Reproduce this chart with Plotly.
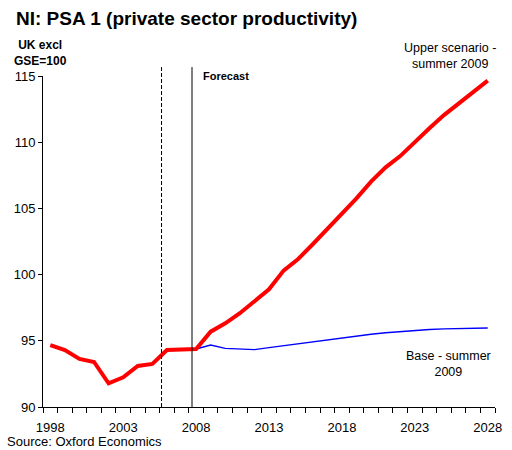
import plotly.graph_objects as go

# Northern Ireland private sector productivity, UK excl GSE = 100
years = list(range(1998, 2029))

upper_scenario = [
    94.68, 94.30, 93.63, 93.40, 91.79, 92.24, 93.10, 93.25, 94.30, 94.36,
    94.38, 95.69, 96.32, 97.08, 97.96, 98.89, 100.30, 101.18, 102.29, 103.42,
    104.60, 105.76, 107.02, 108.10, 108.95, 110.04, 111.05, 112.05, 112.93, 113.82,
    114.65,
]

# base scenario only runs from 2008 onwards
base_years = list(range(2008, 2029))
base_scenario = [
    94.38, 94.68, 94.43, 94.38, 94.33, 94.48, 94.63, 94.73, 94.89, 95.04,
    95.19, 95.34, 95.49, 95.61, 95.69, 95.82, 95.85, 95.90, 95.92, 95.97,
    95.97,
]

x_tick_years = [1998, 2003, 2008, 2013, 2018, 2023, 2028]
y_ticks = [90, 95, 100, 105, 110, 115]

# positions of the vertical divider lines (data-period break and forecast start)
divider_dashed = 2005.63
divider_forecast = 2007.72

FONT = "Liberation Sans, Arial, sans-serif"

fig = go.Figure()

fig.add_trace(go.Scatter(
    x=base_years, y=base_scenario, mode="lines",
    line=dict(color="#0000FF", width=1.4),
    name="Base - summer 2009", showlegend=False,
))
fig.add_trace(go.Scatter(
    x=years, y=upper_scenario, mode="lines",
    line=dict(color="#FF0000", width=4),
    name="Upper scenario - summer 2009", showlegend=False,
))

fig.add_shape(type="line", xref="x", yref="paper",
              x0=divider_dashed, x1=divider_dashed, y0=0, y1=1.027,
              line=dict(color="black", width=1, dash="4px,2px"))
fig.add_shape(type="line", xref="x", yref="paper",
              x0=divider_forecast, x1=divider_forecast, y0=0, y1=1.027,
              line=dict(color="black", width=1))


def note(text, x, y, xanchor="center", xref="paper", yref="paper", size=12, align="center"):
    return dict(text=text, x=x, y=y, xref=xref, yref=yref, xanchor=xanchor,
                yanchor="middle", align=align, showarrow=False,
                font=dict(size=size, color="black"))


annotations = [
    note("<b>NI: PSA 1 (private sector productivity)</b>", -0.064, 1.175,
         xanchor="left", size=19, align="left"),
    note("<b>UK excl<br>GSE=100</b>", -0.005, 1.069, size=12),
    note("<b>Forecast</b>", divider_forecast + 0.65, 1.0, xanchor="left",
         xref="x", size=11, align="left"),
    note("Upper scenario -<br>summer 2009", 0.9, 1.06, size=12.5),
    note("Base - summer<br>2009", 2025.3, 93.25, xref="x", yref="y", size=12.5),
    note("Source: Oxford Economics", -0.083, -0.103, xanchor="left", size=13,
         align="left"),
]

fig.update_layout(
    width=512, height=450,
    margin=dict(l=43, r=10, t=76, b=43),
    paper_bgcolor="white", plot_bgcolor="white",
    font=dict(family=FONT, size=12, color="black"),
    annotations=annotations,
    showlegend=False,
)

fig.update_xaxes(
    range=[1997.5, 2028.5],
    tickvals=x_tick_years, ticktext=[str(y) for y in x_tick_years],
    ticks="", ticklabelstandoff=8,
    minor=dict(tickvals=[y - 0.5 for y in years] + [2028.5], ticks="outside",
               ticklen=5, tickcolor="black", tickwidth=1),
    showline=True, linecolor="black", linewidth=1,
    showgrid=False, zeroline=False,
    tickfont=dict(size=13, color="black"),
)
fig.update_yaxes(
    range=[90, 115], tickvals=y_ticks,
    ticks="outside", ticklen=4, tickcolor="black",
    showline=True, linecolor="black", linewidth=1,
    showgrid=False, zeroline=False,
    tickfont=dict(size=13, color="black"),
)

fig.write_html("out.html")
